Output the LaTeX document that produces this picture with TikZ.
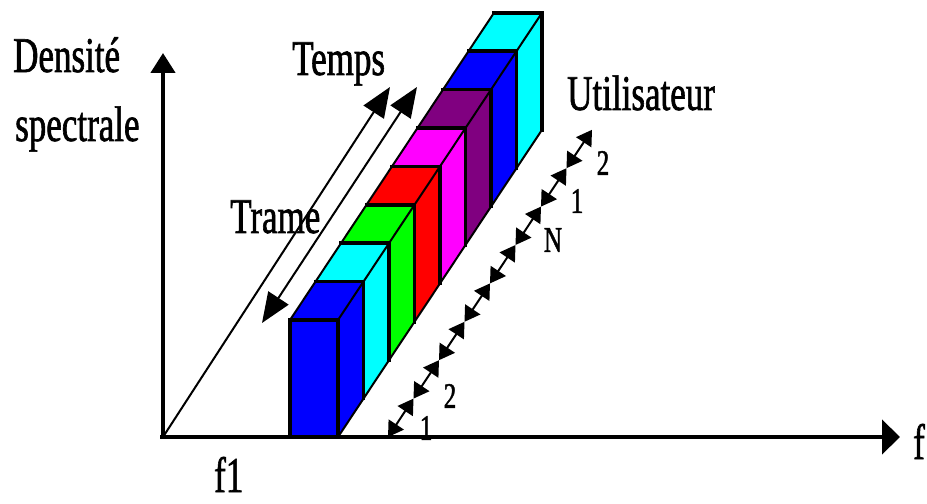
\documentclass[tikz,border=0pt]{standalone}
\usepackage{fontspec}
\setmainfont{Liberation Serif}
\newfontfamily\labfont[FakeStretch=0.7,FakeBold=1.2]{Liberation Serif}
\usetikzlibrary{arrows.meta}

\definecolor{slotblue}{RGB}{0,0,255}
\definecolor{slotcyan}{RGB}{0,255,255}
\definecolor{slotgreen}{RGB}{0,255,0}
\definecolor{slotred}{RGB}{255,0,0}
\definecolor{slotmagenta}{RGB}{255,0,255}
\definecolor{slotpurple}{RGB}{128,0,128}

\begin{document}
\begin{tikzpicture}[x=1bp,y=-1bp,
  axisline/.style={line width=4.5bp},
  depthline/.style={line width=2bp},
  slotedge/.style={line width=3.5bp, line cap=rect},
  slotdiag/.style={line width=2bp},
  userseg/.style={line width=2bp,
    {Triangle[length=15bp,width=18bp]}-{Triangle[length=15bp,width=18bp]}},
  bigtxt/.style={font=\labfont\fontsize{50bp}{50bp}\selectfont, inner sep=0pt},
  smalltxt/.style={font=\labfont\fontsize{36bp}{36bp}\selectfont, inner sep=0pt},
]
\useasboundingbox (0,0) rectangle (927,504);

% axes
\coordinate (O) at (163,437);
\coordinate (Ytop) at (163,53);
\coordinate (Xend) at (900,437);
\coordinate (Obase) at (160,437);
\coordinate (Ylow) at (163,439);
\draw[axisline, -{Triangle[length=20bp,width=24bp]}] (Ylow) -- (Ytop);
\draw[axisline, -{Triangle[length=18bp,width=34bp]}] (Obase) -- (Xend);

% time axis and frame arrow
\coordinate (Tend) at (390,87);
\coordinate (Fa) at (262,323);
\coordinate (Fb) at (417,87);
\draw[depthline, -{Triangle[length=30bp,width=24bp]}] (O) -- (Tend);
\draw[depthline, {Triangle[length=30bp,width=24bp]}-{Triangle[length=30bp,width=24bp]}] (Fa) -- (Fb);

% time slots, drawn from the back to the front
\foreach \k/\col in {7/slotcyan,6/slotblue,5/slotpurple,4/slotmagenta,3/slotred,2/slotgreen,1/slotcyan,0/slotblue}{
  \pgfmathsetmacro\ox{290+25.5*\k}
  \pgfmathsetmacro\oy{320-38.4*\k}
  \begin{scope}[shift={(\ox,\oy)}]
    \fill[\col] (0,0) rectangle (48,117);
    \fill[\col] (0,0) -- (48,0) -- (73.5,-38.4) -- (25.5,-38.4) -- cycle;
    \fill[\col] (48,0) -- (73.5,-38.4) -- (73.5,78.6) -- (48,117) -- cycle;
    \draw[slotdiag] (0,0) -- (25.5,-38.4);
    \draw[slotdiag] (48,0) -- (73.5,-38.4);
    \draw[slotdiag] (48,117) -- (73.5,78.6);
    \draw[slotedge] (0,0) rectangle (48,117);
    \draw[slotedge] (25.5,-38.4) -- (73.5,-38.4) -- (73.5,78.6);
  \end{scope}
}

% user slots along the frequency band
\foreach \k in {0,...,8}{
  \coordinate (u\k) at ({388+25.5*\k},{437-38.4*\k});
}
\foreach \k [evaluate=\k as \n using int(\k+1)] in {0,...,7}{
  \draw[userseg] (u\k) -- (u\n);
}

% labels
\node[bigtxt, anchor=base west] (dens) at (13,72) {Densité};
\node[bigtxt, anchor=base west] (spec) at (15,141) {spectrale};
\node[bigtxt, anchor=base west] (temps) at (292,75) {Temps};
\node[bigtxt, anchor=base west] (trame) at (230,233) {Trame};
\node[bigtxt, anchor=base west] (util) at (567,110) {Utilisateur};
\node[bigtxt, anchor=base west] (flab) at (913,459) {f};
\node[bigtxt, anchor=base west] (f1lab) at (214,492) {f1};

\node[smalltxt] (l1a) at (426,428) {1};
\node[smalltxt] (l2a) at (450,396) {2};
\node[smalltxt] (lN) at (553,240) {N};
\node[smalltxt] (l1b) at (577,201) {1};
\node[smalltxt] (l2b) at (603,163) {2};
\end{tikzpicture}
\end{document}
